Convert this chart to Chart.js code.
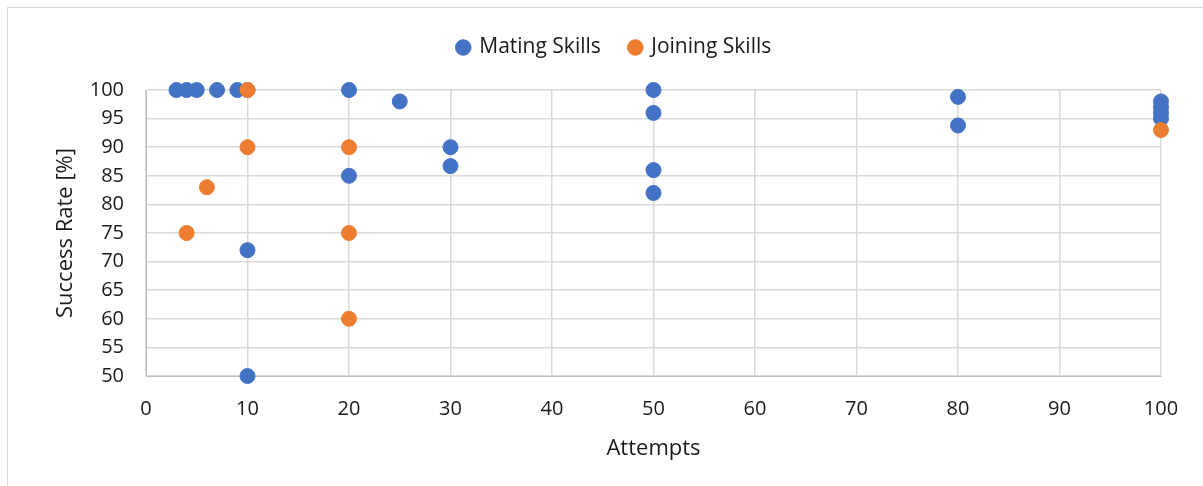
<!DOCTYPE html>
<html>
<head>
<meta charset="utf-8">
<script src="https://cdn.jsdelivr.net/npm/chart.js@4.4.0/dist/chart.umd.min.js"></script>
<style>
    html, body { margin: 0; padding: 0; background: #fff; }
    .chart-container {
        position: absolute;
        left: 7px; top: 7px;
        width: 1196px; height: 479px;
        border-left: 1px solid #d9d9d9;
        border-top: 1px solid #d9d9d9;
        box-sizing: border-box;
    }
</style>
</head>
<body>
<div class="chart-container"><canvas id="chart"></canvas></div>
<script>
// Mating Skills
const matingAttempts = [3, 4, 5, 7, 9, 10, 20, 25, 30, 30, 20, 10, 10, 50, 50, 50, 50, 80, 80, 100, 100, 100, 100];
const matingRates    = [100, 100, 100, 100, 100, 100, 100, 98, 90, 86.7, 85, 72, 50, 100, 96, 86, 82, 98.8, 93.8, 98, 97, 96, 95];

// Joining Skills
const joiningAttempts = [10, 10, 20, 6, 4, 20, 20, 100];
const joiningRates    = [100, 90, 90, 83, 75, 75, 60, 93];

const xTicks = [0, 10, 20, 30, 40, 50, 60, 70, 80, 90, 100];
const yTicks = [50, 55, 60, 65, 70, 75, 80, 85, 90, 95, 100];

const toPoints = (xs, ys) => xs.map((x, i) => ({ x, y: ys[i] }));

const FONT = '"Open Sans", sans-serif';
const TEXT = '#1a1a1a';

// extra room under the legend, and nudge it a little to the right
const legendSpacer = {
    id: 'legendSpacer',
    beforeInit(chart) {
        const fit = chart.legend.fit;
        chart.legend.fit = function () {
            fit.bind(chart.legend)();
            this.height += 22;
        };
    },
    afterLayout(chart) {
        chart.legend.left += 11;
        chart.legend.right += 11;
    }
};

new Chart(document.getElementById('chart'), {
    type: 'scatter',
    data: {
        datasets: [
            {
                label: 'Mating Skills',
                data: toPoints(matingAttempts, matingRates),
                backgroundColor: '#4472c4',
                borderColor: '#4472c4',
                pointRadius: 7.5,
                pointHoverRadius: 7.5,
                clip: false,
                order: 2
            },
            {
                label: 'Joining Skills',
                data: toPoints(joiningAttempts, joiningRates),
                backgroundColor: '#ed7d31',
                borderColor: '#ed7d31',
                pointRadius: 7.5,
                pointHoverRadius: 7.5,
                clip: false,
                order: 1
            }
        ]
    },
    plugins: [legendSpacer],
    options: {
        responsive: true,
        maintainAspectRatio: false,
        animation: false,
        layout: { padding: { left: 38, right: 42, top: 0, bottom: 20 } },
        plugins: {
            legend: {
                position: 'top',
                labels: {
                    usePointStyle: true,
                    pointStyle: 'circle',
                    boxWidth: 11,
                    boxHeight: 11,
                    padding: 29,
                    color: TEXT,
                    font: { family: FONT, size: 21 },
                    sort: (a, b) => a.datasetIndex - b.datasetIndex
                }
            },
            tooltip: { enabled: false }
        },
        scales: {
            x: {
                type: 'linear',
                min: 0,
                max: 100,
                afterBuildTicks: axis => { axis.ticks = xTicks.map(v => ({ value: v })); },
                afterFit: axis => { axis.height = 90; },
                grid: { color: '#d9d9d9', lineWidth: 1.5, drawTicks: false },
                border: { color: '#bfbfbf', display: true },
                ticks: { color: TEXT, padding: 21, font: { family: FONT, size: 20 } },
                title: { display: true, text: 'Attempts', color: TEXT, padding: { top: 6, bottom: 4 }, font: { family: FONT, size: 22 } }
            },
            y: {
                type: 'linear',
                min: 50,
                max: 100,
                afterBuildTicks: axis => { axis.ticks = yTicks.map(v => ({ value: v })); },
                afterFit: axis => { axis.width = 100; },
                grid: { color: '#d9d9d9', lineWidth: 1.5, drawTicks: false },
                border: { color: '#bfbfbf', display: true },
                ticks: { color: TEXT, padding: 22, font: { family: FONT, size: 20 } },
                title: { display: true, text: 'Success Rate [%]', color: TEXT, padding: { top: 7, bottom: 6 }, font: { family: FONT, size: 22 } }
            }
        }
    }
});
</script>
</body>
</html>
